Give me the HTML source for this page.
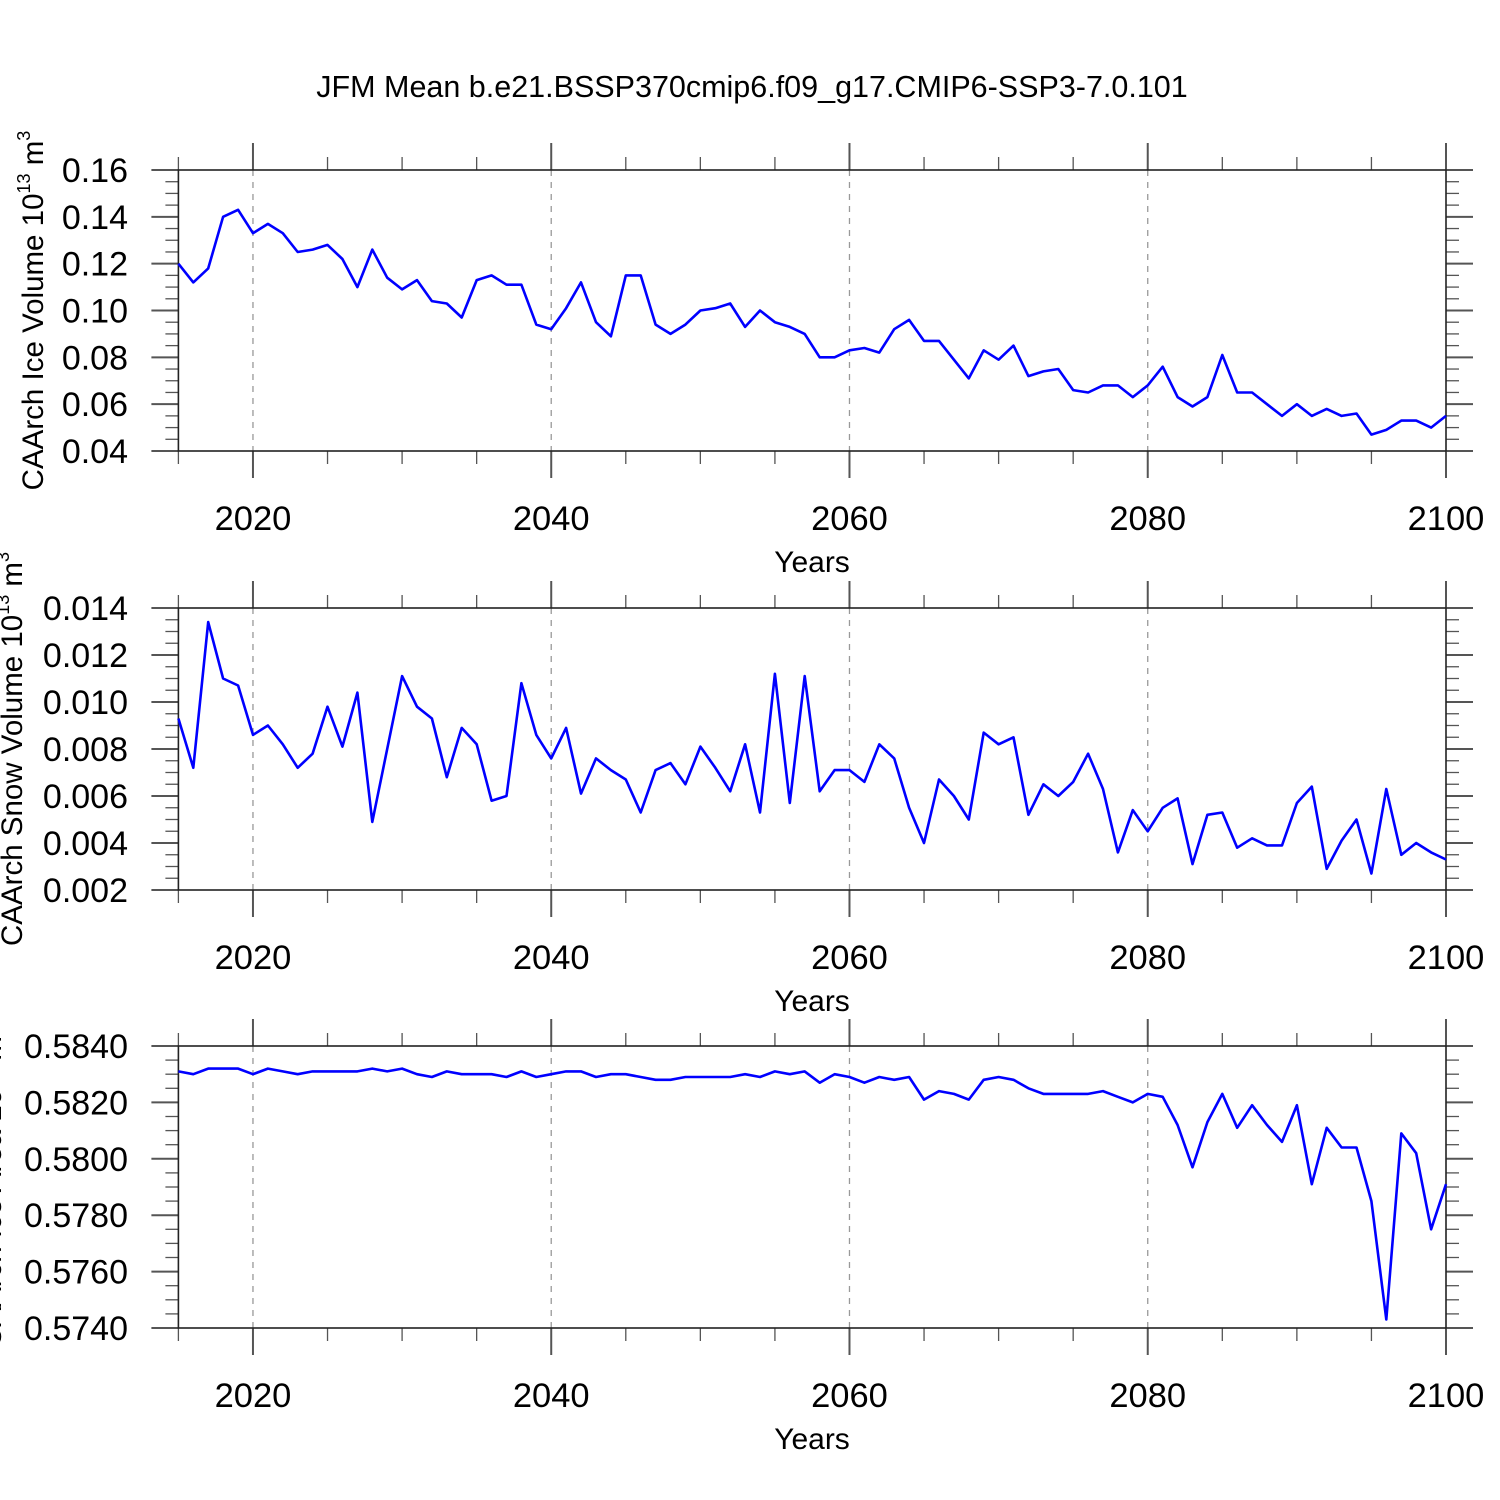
<!DOCTYPE html>
<html><head><meta charset="utf-8"><style>
html,body{margin:0;padding:0;background:#fff;}
svg{display:block;font-family:"Liberation Sans",sans-serif;}
</style></head><body>
<svg id="chart" width="1500" height="1500" viewBox="0 0 1500 1500">
<rect width="1500" height="1500" fill="#fff"/>
<text x="752" y="97" font-size="30.5" text-anchor="middle">JFM Mean b.e21.BSSP370cmip6.f09_g17.CMIP6-SSP3-7.0.101</text>
</svg>
<script>
const years = [];
for (let y = 2015; y <= 2100; y++) years.push(y);
const iceVolume = [0.120,0.112,0.118,0.140,0.143,0.133,0.137,0.133,0.125,0.126,0.128,0.122,0.110,0.126,0.114,0.109,0.113,0.104,0.103,0.097,0.113,0.115,0.111,0.111,0.094,0.092,
0.101,0.112,0.095,0.089,0.115,0.115,0.094,0.090,0.094,0.100,0.101,0.103,0.093,0.100,0.095,0.093,0.090,0.080,0.080,0.083,0.084,0.082,0.092,0.096,0.087,0.087,0.079,0.071,0.083,0.079,0.085,0.072,0.074,0.075,0.066,0.065,0.068,0.068,0.063,0.068,0.076,0.063,0.059,0.063,0.081,0.065,0.065,0.060,0.055,0.060,0.055,0.058,0.055,0.056,0.047,0.049,0.053,0.053,0.050,0.055];
const snowVolume = [0.0093,0.0072,0.0134,0.0110,0.0107,0.0086,0.0090,0.0082,0.0072,0.0078,0.0098,0.0081,0.0104,0.0049,0.0080,0.0111,0.0098,0.0093,0.0068,0.0089,0.0082,0.0058,0.0060,0.0108,0.0086,0.0076,0.0089,0.0061,0.0076,0.0071,0.0067,0.0053,0.0071,0.0074,0.0065,0.0081,0.0072,0.0062,0.0082,0.0053,0.0112,0.0057,0.0111,0.0062,0.0071,0.0071,0.0066,0.0082,0.0076,0.0055,0.0040,0.0067,0.0060,0.0050,0.0087,0.0082,0.0085,0.0052,0.0065,0.0060,0.0066,0.0078,0.0063,0.0036,0.0054,0.0045,0.0055,0.0059,0.0031,0.0052,0.0053,0.0038,0.0042,0.0039,0.0039,0.0057,0.0064,0.0029,0.0041,0.0050,0.0027,0.0063,0.0035,0.0040,0.0036,0.0033];
const iceArea = [0.5831,0.5830,0.5832,0.5832,0.5832,0.5830,0.5832,0.5831,0.5830,0.5831,0.5831,0.5831,0.5831,0.5832,0.5831,0.5832,0.5830,0.5829,0.5831,0.5830,0.5830,0.5830,0.5829,0.5831,0.5829,0.5830,0.5831,0.5831,0.5829,0.5830,0.5830,0.5829,0.5828,0.5828,0.5829,0.5829,0.5829,0.5829,0.5830,0.5829,0.5831,0.5830,0.5831,0.5827,0.5830,0.5829,0.5827,0.5829,0.5828,0.5829,0.5821,0.5824,0.5823,0.5821,0.5828,0.5829,0.5828,0.5825,0.5823,0.5823,0.5823,0.5823,0.5824,0.5822,0.5820,0.5823,0.5822,0.5812,0.5797,0.5813,0.5823,0.5811,0.5819,0.5812,0.5806,0.5819,0.5791,0.5811,0.5804,0.5804,0.5785,0.5743,0.5809,0.5802,0.5775,0.5791];
const xTicks = [2020,2040,2060,2080,2100];
const yTicks1 = ["0.04","0.06","0.08","0.10","0.12","0.14","0.16"];
const yTicks2 = ["0.002","0.004","0.006","0.008","0.010","0.012","0.014"];
const yTicks3 = ["0.5740","0.5760","0.5780","0.5800","0.5820","0.5840"];

const NS = "http://www.w3.org/2000/svg";
const svg = document.getElementById('chart');
const X0 = 178.4, X1 = 1446, XMIN = 2015, XMAX = 2100;
const xs = v => X0 + (v - XMIN) / (XMAX - XMIN) * (X1 - X0);
function mk(tag, attrs, parent) {
  const e = document.createElementNS(NS, tag);
  for (const k in attrs) e.setAttribute(k, attrs[k]);
  (parent || svg).appendChild(e);
  return e;
}
function panel(name, top, bottom, ymin, ymax, ticks, minorStep, data, label, labelX, sup, supExp) {
  const g = mk('g', {});
  
  
  const ys = v => bottom - (v - ymin) / (ymax - ymin) * (bottom - top);
  xTicks.slice(0, 4).forEach(t => {
    const l = mk('line', {x1: xs(t), x2: xs(t), y1: top, y2: bottom, stroke: '#999', 'stroke-width': 1.3, 'stroke-dasharray': '6,6'}, g);
    
    
  });
  for (let t = 2015; t <= 2100; t += 5) {
    const major = t % 20 === 0;
    const len = major ? 27 : 13;
    mk('line', {x1: xs(t), x2: xs(t), y1: top - len, y2: top, stroke: '#555', 'stroke-width': major ? 2 : 1.3}, g);
    mk('line', {x1: xs(t), x2: xs(t), y1: bottom, y2: bottom + len, stroke: '#555', 'stroke-width': major ? 2 : 1.3}, g);
  }
  xTicks.forEach(t => {
    const tx = mk('text', {x: xs(t), y: bottom + 79, 'font-size': 34.5, 'text-anchor': 'middle'}, g);
    tx.textContent = t;
    
    
  });
  for (let v = ymin; v <= ymax + minorStep / 2; v += minorStep) {
    const idx = Math.round((v - ymin) / minorStep);
    const major = idx % 4 === 0;
    const len = major ? 27 : 13;
    const y = ys(v);
    mk('line', {x1: X0 - len, x2: X0, y1: y, y2: y, stroke: '#555', 'stroke-width': major ? 2 : 1.3}, g);
    mk('line', {x1: X1, x2: X1 + len, y1: y, y2: y, stroke: '#555', 'stroke-width': major ? 2 : 1.3}, g);
  }
  ticks.forEach(t => {
    const tx = mk('text', {x: 128, y: ys(parseFloat(t)) + 12, 'font-size': 34, 'text-anchor': 'end'}, g);
    tx.textContent = t;
    
    
  });
  const fr = mk('rect', {x: X0, y: top, width: X1 - X0, height: bottom - top, fill: 'none', stroke: '#222', 'stroke-width': 1.6}, g);
  
  
  const pts = data.map((v, i) => xs(years[i]).toFixed(1) + ',' + ys(v).toFixed(1)).join(' ');
  const pl = mk('polyline', {points: pts, fill: 'none', stroke: '#0000ff', 'stroke-width': 2.6, 'stroke-linejoin': 'round'}, g);
  
  
  const xt = mk('text', {x: 812, y: bottom + 121, 'font-size': 30, 'text-anchor': 'middle'}, g);
  xt.textContent = 'Years';
  
  
  const cy = (top + bottom) / 2;
  const yt = mk('text', {x: labelX, y: cy, 'font-size': 29.5, 'text-anchor': 'middle', transform: `rotate(-90 ${labelX} ${cy})`}, g);
  
  
  yt.appendChild(document.createTextNode(label + ' 10'));
  const s1 = mk('tspan', {dy: -13, 'font-size': 18}, yt); s1.textContent = '13';
  const s2 = mk('tspan', {dy: 13}, yt); s2.textContent = ' ' + sup;
  const s3 = mk('tspan', {dy: -13, 'font-size': 18}, yt); s3.textContent = supExp;
}
panel('ice-volume', 170, 451, 0.04, 0.16, yTicks1, 0.005, iceVolume, 'CAArch Ice Volume', 43, 'm', '3');
panel('snow-volume', 608, 890, 0.002, 0.014, yTicks2, 0.0005, snowVolume, 'CAArch Snow Volume', 22, 'm', '3');
panel('ice-area', 1046, 1328, 0.574, 0.584, yTicks3, 0.0005, iceArea, 'CAArch Ice Area', 1, 'm', '2');
</script>
</body></html>
